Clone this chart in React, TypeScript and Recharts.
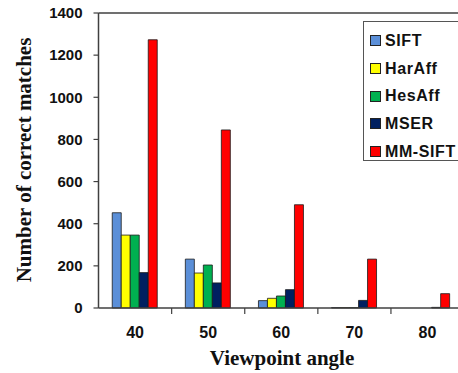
import { BarChart, Bar, XAxis, YAxis, Legend, ReferenceLine, Label } from "recharts";

const angles = ["40", "50", "60", "70", "80"];
const sift = [452, 232, 35, 2, 0];
const harAff = [346, 166, 46, 2, 0];
const hesAff = [346, 204, 57, 2, 0];
const mser = [168, 119, 87, 36, 3];
const mmSift = [1273, 845, 490, 232, 68];
const yTicks = [0, 200, 400, 600, 800, 1000, 1200, 1400];

const series = [
  { key: "SIFT", values: sift, color: "#5b8fd8" },
  { key: "HarAff", values: harAff, color: "#ffff00" },
  { key: "HesAff", values: hesAff, color: "#00b050" },
  { key: "MSER", values: mser, color: "#002060" },
  { key: "MM-SIFT", values: mmSift, color: "#ff0000" },
];

const data = angles.map((a, i) => {
  const row: Record<string, string | number> = { angle: a };
  series.forEach((s) => {
    row[s.key] = s.values[i];
  });
  return row;
});

const AXIS = "#404040";
const HALF_BAND = 36.6;

const XTick = (props: any) => {
  const { x, y, payload } = props;
  return (
    <g>
      <line x1={x + HALF_BAND} x2={x + HALF_BAND} y1={y} y2={y + 6} stroke={AXIS} strokeWidth={1.2} />
      <text
        x={x}
        y={y + 30}
        textAnchor="middle"
        fontFamily="Liberation Sans"
        fontWeight="bold"
        fontSize={16}
        fill="#111"
      >
        {payload.value}
      </text>
    </g>
  );
};

const LegendBox = () => (
  <div
    style={{
      border: "1.5px solid #555",
      background: "#fff",
      width: 110,
      height: 140,
      boxSizing: "border-box",
      paddingTop: 5,
    }}
  >
    {series.map((s) => (
      <div
        key={s.key}
        style={{ display: "flex", alignItems: "center", height: 27.7 }}
      >
        <span
          style={{
            display: "inline-block",
            width: 9,
            height: 9,
            marginLeft: 6,
            marginRight: 4,
            background: s.color,
            border: "1px solid #222",
          }}
        />
        <span
          style={{
            fontFamily: "Liberation Sans",
            fontWeight: "bold",
            fontSize: 16,
            letterSpacing: 0.6,
            color: "#111",
          }}
        >
          {s.key}
        </span>
      </div>
    ))}
  </div>
);

export default function App() {
  return (
    <div style={{ position: "absolute", left: 0, top: 0, width: 458, height: 373, overflow: "hidden", background: "#fff" }}>
      <BarChart
        width={480}
        height={373}
        data={data}
        margin={{ top: 13, right: 16, left: 0, bottom: 5 }}
        barCategoryGap="18.8%"
        barGap={0}
      >
        <XAxis
          dataKey="angle"
          height={60}
          tick={<XTick />}
          tickLine={false}
          tickSize={0}
          tickMargin={0}
          axisLine={{ stroke: AXIS, strokeWidth: 1.5 }}
        >
          <Label
            content={() => (
              <text
                x={282}
                y={365}
                textAnchor="middle"
                fontFamily="Liberation Serif"
                fontWeight="bold"
                fontSize={21}
                fill="#111"
              >
                Viewpoint angle
              </text>
            )}
          />
        </XAxis>
        <YAxis
          width={98.5}
          domain={[0, 1400]}
          ticks={yTicks}
          interval={0}
          tickSize={5}
          tickMargin={11}
          tick={{ fontFamily: "Liberation Sans", fontWeight: "bold", fontSize: 15, fill: "#111" }}
          tickLine={{ stroke: AXIS, strokeWidth: 1.2 }}
          axisLine={{ stroke: AXIS, strokeWidth: 1.5 }}
        >
          <Label
            content={() => (
              <text
                x={31}
                y={160}
                transform="rotate(-90, 31, 160)"
                textAnchor="middle"
                fontFamily="Liberation Serif"
                fontWeight="bold"
                fontSize={21}
                fill="#111"
              >
                Number of correct matches
              </text>
            )}
          />
        </YAxis>
        <ReferenceLine y={1400} stroke={AXIS} strokeWidth={1.5} />
        <Legend
          layout="vertical"
          align="center"
          verticalAlign="middle"
          content={<LegendBox />}
          wrapperStyle={{ position: "absolute", left: 363, top: 21, width: 110, height: 140 }}
        />
        {series.map((s) => (
          <Bar
            key={s.key}
            dataKey={s.key}
            fill={s.color}
            stroke="#1a1a1a"
            strokeWidth={0.8}
            isAnimationActive={false}
          />
        ))}
      </BarChart>
    </div>
  );
}
